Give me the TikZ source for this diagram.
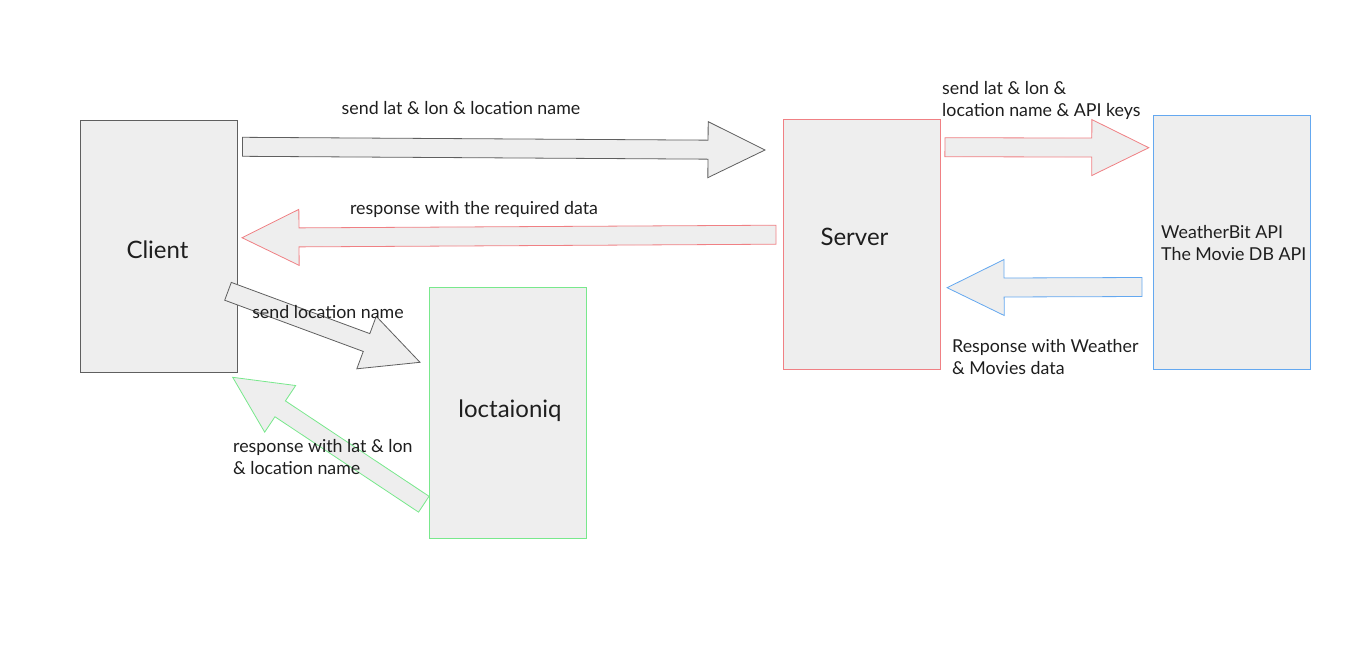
\documentclass[tikz,border=0pt]{standalone}
\usepackage{fontspec}
\setmainfont{Lato}
\usetikzlibrary{calc}

\definecolor{boxfill}{RGB}{238,238,238}
\definecolor{grayline}{RGB}{95,95,95}
\definecolor{redline}{RGB}{240,128,132}
\definecolor{blueline}{RGB}{100,168,240}
\definecolor{greenline}{RGB}{120,232,140}
\definecolor{textcol}{RGB}{30,30,30}

% Широкая стрелка: #1 стиль, #2 начало, #3 конец
\newcommand{\blockarrow}[3][]{%
  \coordinate (ba-h) at ($(#3)!57pt!(#2)$);
  \draw[barrow,#1] ($(#2)!9.5pt!90:(#3)$) -- ($(ba-h)!9.5pt!-90:(#2)$)
    -- ($(ba-h)!28pt!-90:(#2)$) -- (#3) -- ($(ba-h)!28pt!90:(#2)$)
    -- ($(ba-h)!9.5pt!90:(#2)$) -- ($(#2)!9.5pt!-90:(#3)$) -- cycle;
}

\begin{document}
\begin{tikzpicture}[x=1pt,y=-1pt,
    box/.style={rectangle, draw=#1, fill=boxfill, line width=0.8pt, minimum width=157pt, inner sep=0pt},
    barrow/.style={draw=#1, fill=boxfill, line width=0.8pt, line join=miter},
    lbl/.style={font=\fontsize{17.8}{22}\selectfont, text=textcol, inner sep=0pt},
    title/.style={font=\fontsize{24}{28}\selectfont, text=textcol, inner sep=0pt}]
        \useasboundingbox (0,0) rectangle (1366,657);

        % Блоки
        \node[box=grayline, minimum height=252pt]  (client) at (158.5,246) {};
        \node[box=redline, minimum height=250pt]   (server) at (861.5,244) {};
        \node[box=blueline, minimum height=254pt]  (api)    at (1231.5,242) {};
        \node[box=greenline, minimum height=251pt] (lociq)  at (507.5,412.5) {};

        % Подписи блоков
        \node[title] (client-txt) at (157.5,250) {Client};
        \node[title] (server-txt) at (854.5,237) {Server};
        \node[title] (lociq-txt)  at (510,411) {loctaioniq};
        \node[lbl, anchor=west, align=left] (api-txt) at (1161,243) {WeatherBit API\\The Movie DB API};

        % Концы стрелок
        \coordinate (c2s-a) at (242.5,146.8);  \coordinate (c2s-b) at (765,150);
        \coordinate (s2c-a) at (776,234.7);    \coordinate (s2c-b) at (242,237.7);
        \coordinate (c2l-a) at (228,291.3);    \coordinate (c2l-b) at (420,362.3);
        \coordinate (l2c-a) at (423.8,504.2);  \coordinate (l2c-b) at (232.7,377.3);
        \coordinate (s2a-a) at (944.9,147.2);  \coordinate (s2a-b) at (1148.8,147.7);
        \coordinate (a2s-a) at (1142,287);     \coordinate (a2s-b) at (947.1,287.7);

        % Стрелки
        \blockarrow[barrow=grayline]{c2s-a}{c2s-b}
        \blockarrow[barrow=redline]{s2c-a}{s2c-b}
        \blockarrow[barrow=grayline]{c2l-a}{c2l-b}
        \blockarrow[barrow=greenline]{l2c-a}{l2c-b}
        \blockarrow[barrow=redline]{s2a-a}{s2a-b}
        \blockarrow[barrow=blueline]{a2s-a}{a2s-b}

        % Подписи стрелок
        \node[lbl] (c2s-txt) at (461,108) {send lat \& lon \& location name};
        \node[lbl] (s2c-txt) at (474,209) {response with the required data};
        \node[lbl] (c2l-txt) at (328,312) {send location name};
        \node[lbl, anchor=west, align=left] (l2c-txt) at (233,457) {response with lat \& lon\\\& location name};
        \node[lbl, anchor=west, align=left] (s2a-txt) at (942,100) {send lat \& lon \&\\location name \& API keys};
        \node[lbl, anchor=west, align=left] (a2s-txt) at (952,357) {Response with Weather\\\& Movies data};
    \end{tikzpicture}
\end{document}
